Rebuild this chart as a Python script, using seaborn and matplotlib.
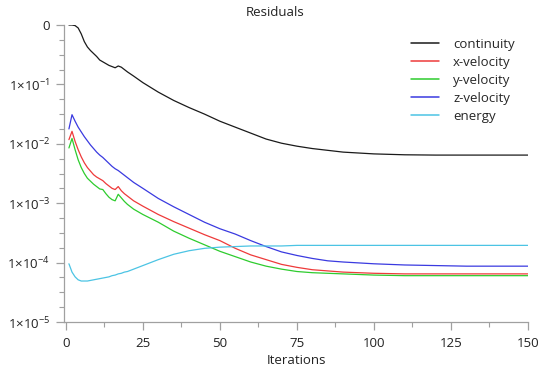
import numpy as np
import pandas as pd
import matplotlib
matplotlib.use("Agg")
import matplotlib.pyplot as plt
import matplotlib.ticker as mticker
import seaborn as sns

iterations = [1, 2, 3, 4, 5, 6, 7, 8, 9, 10, 11, 12, 13, 14, 15, 16, 17, 18, 19, 20,
              22, 25, 30, 35, 40, 45, 50, 55, 60, 65, 70, 75, 80, 85, 90,
              100, 110, 120, 130, 140, 150]

# log10 of the scaled residuals
continuity = [0.0, 0.0, -0.01, -0.05, -0.15, -0.28, -0.37, -0.43, -0.48, -0.53, -0.59, -0.62,
              -0.65, -0.68, -0.70, -0.72, -0.69, -0.71, -0.75, -0.79,
              -0.86, -0.97, -1.13, -1.27, -1.39, -1.50, -1.62, -1.72, -1.82, -1.92, -1.99,
              -2.04, -2.08, -2.11, -2.14, -2.17, -2.185, -2.19, -2.19, -2.19, -2.19]
x_velocity = [-1.93, -1.79, -1.96, -2.10, -2.22, -2.32, -2.40, -2.46, -2.52, -2.56, -2.59, -2.62,
              -2.67, -2.71, -2.75, -2.77, -2.72, -2.79, -2.84, -2.88,
              -2.96, -3.05, -3.19, -3.31, -3.42, -3.53, -3.63, -3.76, -3.87, -3.95, -4.03,
              -4.08, -4.12, -4.14, -4.16, -4.18, -4.19, -4.19, -4.19, -4.19, -4.19]
y_velocity = [-2.07, -1.91, -2.10, -2.27, -2.40, -2.50, -2.58, -2.63, -2.68, -2.72, -2.76, -2.77,
              -2.84, -2.90, -2.94, -2.96, -2.85, -2.91, -2.97, -3.02,
              -3.10, -3.19, -3.32, -3.47, -3.59, -3.70, -3.81, -3.90, -3.99, -4.06, -4.11,
              -4.15, -4.17, -4.18, -4.19, -4.21, -4.22, -4.22, -4.22, -4.22, -4.22]
z_velocity = [-1.75, -1.51, -1.62, -1.72, -1.80, -1.88, -1.95, -2.02, -2.08, -2.14, -2.19, -2.23,
              -2.28, -2.33, -2.38, -2.42, -2.45, -2.49, -2.53, -2.57,
              -2.65, -2.75, -2.92, -3.06, -3.19, -3.32, -3.43, -3.52, -3.63, -3.73, -3.82,
              -3.88, -3.93, -3.97, -3.99, -4.02, -4.04, -4.05, -4.06, -4.06, -4.06]
energy = [-4.02, -4.16, -4.24, -4.29, -4.31, -4.31, -4.31, -4.30, -4.29, -4.28, -4.27, -4.26,
          -4.25, -4.24, -4.22, -4.21, -4.19, -4.18, -4.16, -4.15,
          -4.11, -4.05, -3.95, -3.86, -3.80, -3.76, -3.74, -3.73, -3.72, -3.72, -3.72,
          -3.71, -3.71, -3.71, -3.71, -3.71, -3.71, -3.71, -3.71, -3.71, -3.71]

series_names = ["continuity", "x-velocity", "y-velocity", "z-velocity", "energy"]
series_colors = ["#1a1a1a", "#ee3a3a", "#2ecc2e", "#3a3ae0", "#4cc4e4"]

y_ticks = [1e-5, 1e-4, 1e-3, 1e-2, 1e-1, 1]
y_tick_labels = [r"$1{\times}10^{-5}$", r"$1{\times}10^{-4}$", r"$1{\times}10^{-3}$",
                 r"$1{\times}10^{-2}$", r"$1{\times}10^{-1}$", "0"]

frames = []
for name, vals in zip(series_names, [continuity, x_velocity, y_velocity, z_velocity, energy]):
    frames.append(pd.DataFrame({"Iterations": iterations,
                                "residual": 10.0 ** np.array(vals),
                                "series": name}))
df = pd.concat(frames, ignore_index=True)

sns.set_theme(style="white")
plt.rcParams["font.family"] = ["Open Sans", "DejaVu Sans"]
plt.rcParams["mathtext.fontset"] = "custom"
plt.rcParams["mathtext.rm"] = "Open Sans"
plt.rcParams["mathtext.default"] = "regular"

fig = plt.figure(figsize=(5.5, 3.78), dpi=100)
ax = fig.add_axes([64 / 550, 1 - 322 / 378, (528 - 64) / 550, (322 - 25) / 378])

sns.lineplot(data=df, x="Iterations", y="residual", hue="series",
             palette=dict(zip(series_names, series_colors)), hue_order=series_names,
             linewidth=0.9, ax=ax, legend=True)

ax.set_yscale("log")
ax.set_ylim(1e-5, 1)
ax.set_xlim(-0.6, 150)
ax.set_yticks(y_ticks)
ax.set_yticklabels(y_tick_labels)
ax.yaxis.set_minor_locator(mticker.LogLocator(base=10, subs=[10 ** 0.25, 10 ** 0.5, 10 ** 0.75]))
ax.yaxis.set_minor_formatter(mticker.NullFormatter())
ax.set_xticks([0, 25, 50, 75, 100, 125, 150])
ax.xaxis.set_minor_locator(mticker.MultipleLocator(12.5))

for side in ["top", "right"]:
    ax.spines[side].set_visible(False)
for side in ["left", "bottom"]:
    ax.spines[side].set_color("#a0a0a0")
    ax.spines[side].set_linewidth(0.9)

ax.tick_params(which="both", bottom=True, left=True)
ax.tick_params(which="major", direction="out", length=6, width=0.9, color="#a0a0a0",
               labelsize=9.5, labelcolor="#222222", pad=4)
ax.tick_params(which="minor", direction="out", length=3.5, width=0.8, color="#a0a0a0")
ax.tick_params(axis="x", which="major", pad=5)

ax.set_xlabel("Iterations", fontsize=9.5, color="#222222", labelpad=3)
ax.set_ylabel("")
fig.text(0.5, 1 - 12 / 378, "Residuals", ha="center", va="center", fontsize=9.5, color="#222222")

leg = ax.legend(loc="upper left", bbox_to_anchor=(411 / 550, 1 - 38 / 378),
                bbox_transform=fig.transFigure, frameon=False, fontsize=9.5,
                handlelength=2.1, handletextpad=1.1, labelspacing=0.38,
                borderpad=0, borderaxespad=0)
for line in leg.get_lines():
    line.set_linewidth(1.1)

fig.savefig("out.png", dpi=100)
